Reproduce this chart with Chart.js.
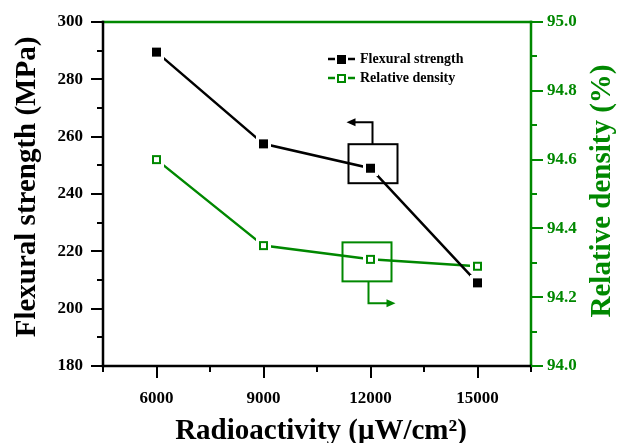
<!DOCTYPE html>
<html><head><meta charset="utf-8">
<script src="https://cdn.jsdelivr.net/npm/chart.js@4.4.0/dist/chart.umd.min.js"></script>
<style>html,body{margin:0;padding:0;background:#fff}</style>
</head><body>
<canvas id="c" width="622" height="443" style="width:622px;height:443px;display:block"></canvas>
<script>
// ---- data ----
const radioactivity = [6000, 9000, 12000, 15000];
const flexuralStrength = [289.5, 257.5, 249, 209];
const relativeDensity = [94.6, 94.35, 94.31, 94.29];
const xTickLabels = ['6000', '9000', '12000', '15000'];
const leftTickLabels = ['180', '200', '220', '240', '260', '280', '300'];
const rightTickLabels = ['94.0', '94.2', '94.4', '94.6', '94.8', '95.0'];
const seriesNames = ['Flexural strength', 'Relative density'];
const xTitle = 'Radioactivity (\u03bcW/cm\u00b2)';
const yTitle = 'Flexural strength (MPa)';
const y1Title = 'Relative density (%)';

const GREEN = '#008800';
const FONT = '"Liberation Serif", "Times New Roman", serif';

function makeMarker(color, filled, size, pad) {
  const s = size + 2 * pad;
  const c = document.createElement('canvas');
  c.width = s; c.height = s;
  const g = c.getContext('2d');
  g.fillStyle = '#fff'; g.fillRect(0, 0, s, s);
  g.fillStyle = color; g.fillRect(pad, pad, size, size);
  if (!filled) { g.fillStyle = '#fff'; g.fillRect(pad + 2, pad + 2, size - 4, size - 4); }
  return c;
}
const blackMarker = makeMarker('#000', true, 9, 3);
const greenMarker = makeMarker(GREEN, false, 9, 3);

function fmtLabel(list, v, digits) {
  const s = digits ? v.toFixed(digits) : String(Math.round(v));
  return list.includes(s) ? s : '';
}

const axesPlugin = {
  id: 'axesPlugin',
  afterDraw(chart) {
    const ctx = chart.ctx;
    const a = chart.chartArea;
    const sx = chart.scales.x, sy = chart.scales.y, sy1 = chart.scales.y1;
    ctx.save();
    ctx.lineWidth = 2.5;
    ctx.lineCap = 'square';
    // frame
    ctx.strokeStyle = GREEN;
    ctx.beginPath(); ctx.moveTo(a.left, a.top); ctx.lineTo(a.right, a.top); ctx.stroke();
    ctx.beginPath(); ctx.moveTo(a.right, a.top); ctx.lineTo(a.right, a.bottom); ctx.stroke();
    ctx.strokeStyle = '#000';
    ctx.beginPath(); ctx.moveTo(a.left, a.top); ctx.lineTo(a.left, a.bottom); ctx.stroke();
    ctx.beginPath(); ctx.moveTo(a.left, a.bottom); ctx.lineTo(a.right, a.bottom); ctx.stroke();
    ctx.lineCap = 'butt';
    ctx.lineWidth = 2;
    // ticks
    sx.ticks.forEach(t => {
      const p = Math.round(sx.getPixelForValue(t.value));
      const len = t.label !== '' ? 12 : 6;
      ctx.beginPath(); ctx.moveTo(p, a.bottom); ctx.lineTo(p, a.bottom + len); ctx.stroke();
    });
    sy.ticks.forEach(t => {
      const p = Math.round(sy.getPixelForValue(t.value));
      const len = t.label !== '' ? 12 : 6;
      ctx.beginPath(); ctx.moveTo(a.left, p); ctx.lineTo(a.left - len, p); ctx.stroke();
    });
    ctx.strokeStyle = GREEN;
    sy1.ticks.forEach(t => {
      const p = Math.round(sy1.getPixelForValue(t.value));
      const len = t.label !== '' ? 12 : 6;
      ctx.beginPath(); ctx.moveTo(a.right, p); ctx.lineTo(a.right + len, p); ctx.stroke();
    });

    // titles
    const cy = (a.top + a.bottom) / 2;
    ctx.font = 'bold 29px ' + FONT;
    ctx.textAlign = 'center'; ctx.textBaseline = 'middle';
    ctx.fillStyle = '#000';
    ctx.save(); ctx.translate(28, cy - 7); ctx.rotate(-Math.PI / 2); ctx.fillText(yTitle, 0, 0); ctx.restore();
    ctx.fillStyle = GREEN;
    ctx.save(); ctx.translate(603, cy - 3); ctx.rotate(-Math.PI / 2); ctx.fillText(y1Title, 0, 0); ctx.restore();
    ctx.fillStyle = '#000';
    ctx.textBaseline = 'alphabetic';
    ctx.fillText(xTitle, (a.left + a.right) / 2 + 4, 439);

    // legend
    const lx = 328;
    const rows = [
      {y: 59, color: '#000', filled: true, name: seriesNames[0]},
      {y: 78, color: GREEN, filled: false, name: seriesNames[1]}
    ];
    ctx.font = 'bold 14px ' + FONT;
    ctx.textAlign = 'left'; ctx.textBaseline = 'middle';
    rows.forEach(r => {
      ctx.strokeStyle = r.color; ctx.lineWidth = 2.5;
      ctx.beginPath(); ctx.moveTo(lx, r.y); ctx.lineTo(lx + 7, r.y); ctx.stroke();
      ctx.beginPath(); ctx.moveTo(lx + 20, r.y); ctx.lineTo(lx + 27, r.y); ctx.stroke();
      ctx.lineWidth = 2;
      if (r.filled) { ctx.fillStyle = r.color; ctx.fillRect(lx + 9, r.y - 4, 9, 9); }
      else { ctx.strokeRect(lx + 10, r.y - 3, 7, 7); }
      ctx.fillStyle = '#000';
      ctx.fillText(r.name, lx + 32, r.y);
    });

    // annotation boxes with arrows
    const bx = sx.getPixelForValue(radioactivity[2]);
    const byF = sy.getPixelForValue(flexuralStrength[2]);
    const byD = sy1.getPixelForValue(relativeDensity[2]);
    ctx.lineWidth = 2;
    // black
    ctx.strokeStyle = '#000'; ctx.fillStyle = '#000';
    ctx.strokeRect(bx - 22, byF - 24, 49, 39);
    ctx.beginPath(); ctx.moveTo(bx + 2, byF - 24); ctx.lineTo(bx + 2, byF - 46); ctx.lineTo(bx - 16, byF - 46); ctx.stroke();
    ctx.beginPath(); ctx.moveTo(bx - 24, byF - 46); ctx.lineTo(bx - 15, byF - 50); ctx.lineTo(bx - 15, byF - 42); ctx.closePath(); ctx.fill();
    // green
    ctx.strokeStyle = GREEN; ctx.fillStyle = GREEN;
    ctx.strokeRect(bx - 28, byD - 17, 49, 39);
    ctx.beginPath(); ctx.moveTo(bx - 2, byD + 22); ctx.lineTo(bx - 2, byD + 44); ctx.lineTo(bx + 17, byD + 44); ctx.stroke();
    ctx.beginPath(); ctx.moveTo(bx + 25, byD + 44); ctx.lineTo(bx + 16, byD + 40); ctx.lineTo(bx + 16, byD + 48); ctx.closePath(); ctx.fill();
    ctx.restore();
  }
};

const tickFont = {family: FONT, size: 17, weight: 'bold'};

new Chart(document.getElementById('c'), {
  type: 'line',
  data: {
    datasets: [
      {
        label: seriesNames[0],
        data: radioactivity.map((x, i) => ({x, y: flexuralStrength[i]})),
        borderColor: '#000', borderWidth: 2.5,
        pointStyle: blackMarker, pointRadius: 7,
        yAxisID: 'y', tension: 0
      },
      {
        label: seriesNames[1],
        data: radioactivity.map((x, i) => ({x, y: relativeDensity[i]})),
        borderColor: GREEN, borderWidth: 2.5,
        pointStyle: greenMarker, pointRadius: 7,
        yAxisID: 'y1', tension: 0
      }
    ]
  },
  options: {
    responsive: false,
    animation: false,
    devicePixelRatio: 1,
    layout: {padding: {top: 22, left: 0, right: 0, bottom: 0}},
    plugins: {legend: {display: false}, tooltip: {enabled: false}},
    scales: {
      x: {
        type: 'linear', position: 'bottom', min: 4500, max: 16500,
        afterFit(s) { s.height = 77; },
        ticks: {stepSize: 1500, autoSkip: false, maxRotation: 0, padding: 10, color: '#000', font: tickFont,
          callback: v => fmtLabel(xTickLabels, v, 0)},
        grid: {display: true, drawOnChartArea: false, drawTicks: true, tickLength: 12, color: 'rgba(0,0,0,0)'},
        border: {display: false}
      },
      y: {
        type: 'linear', position: 'left', min: 180, max: 300,
        afterFit(s) { s.width = 103; },
        ticks: {stepSize: 10, autoSkip: false, padding: 8, color: '#000', font: tickFont,
          callback: v => fmtLabel(leftTickLabels, v, 0)},
        grid: {display: true, drawOnChartArea: false, drawTicks: true, tickLength: 12, color: 'rgba(0,0,0,0)'},
        border: {display: false}
      },
      y1: {
        type: 'linear', position: 'right', min: 94, max: 95,
        afterFit(s) { s.width = 91; },
        ticks: {stepSize: 0.1, autoSkip: false, padding: 4, color: GREEN, font: tickFont,
          callback: v => fmtLabel(rightTickLabels, v, 1)},
        grid: {display: true, drawOnChartArea: false, drawTicks: true, tickLength: 12, color: 'rgba(0,0,0,0)'},
        border: {display: false}
      }
    }
  },
  plugins: [axesPlugin]
});
</script>
</body></html>
